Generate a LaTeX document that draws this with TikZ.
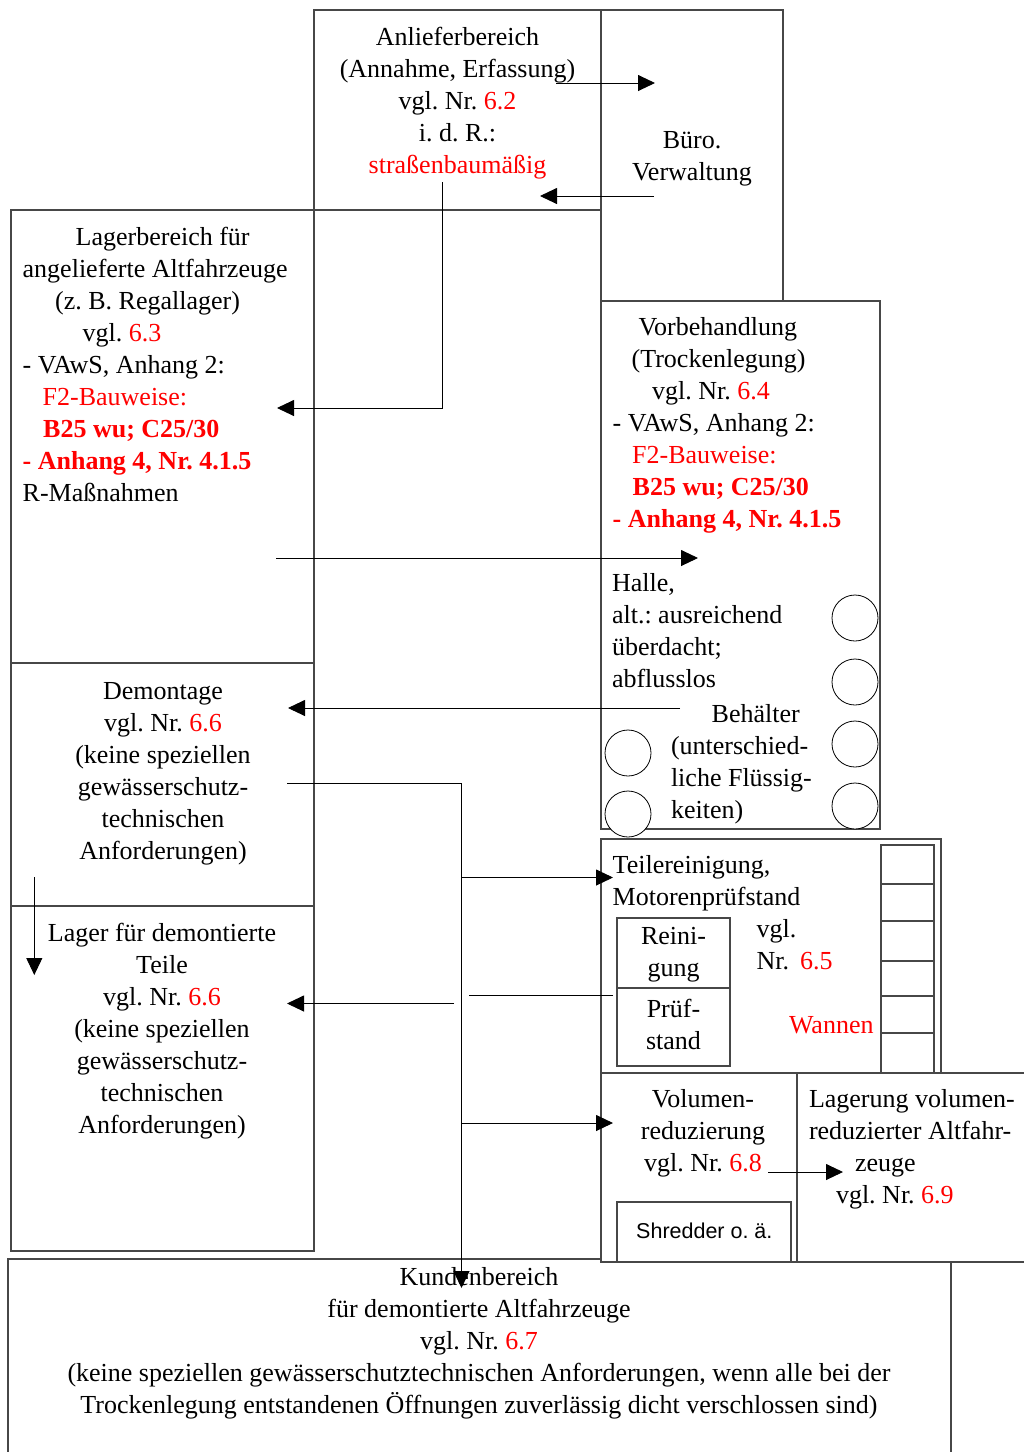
\documentclass[tikz,border=0pt]{standalone}
\usepackage{fontspec}
\setmainfont{Liberation Serif}
\newfontfamily\arialf{Liberation Sans}
\usetikzlibrary{arrows.meta}
\definecolor{rd}{RGB}{255,0,0}
\newcommand\rt[1]{\textcolor{rd}{#1}}
\newcommand\fsz{\fontsize{26}{32}\selectfont\frenchspacing}
\begin{document}
\frenchspacing
\begin{tikzpicture}[x=1pt,y=-1pt,
  box/.style={draw=black!72, line width=1.1pt, fill=white, inner sep=0pt, outer sep=0pt, anchor=north west},
  ring/.style={circle, draw=black, line width=0.8pt, fill=white, inner sep=0pt, minimum size=46pt},
  txt/.style={inner sep=0pt, outer sep=0pt, font=\fsz},
  conn/.style={draw=black, line width=0.9pt},
  arr/.style={conn, -{Triangle[length=17pt,width=16pt]}},
]
\useasboundingbox (0,0) rectangle (1024,1452);
\clip (0,0) rectangle (1024,1452);

% ---------- boxes ----------
\node[box, minimum width=943pt, minimum height=230pt] (kunden) at (8,1259) {};
\node[box, minimum width=287pt, minimum height=200pt] (anl) at (314,10) {};
\node[box, minimum width=182pt, minimum height=291pt] (buero) at (601,10) {};
\node[box, minimum width=303pt, minimum height=453pt] (lagb) at (11,210) {};
\node[box, minimum width=303pt, minimum height=243pt] (demo) at (11,663) {};
\node[box, minimum width=303pt, minimum height=345pt] (lagt) at (11,906) {};
\node[box, minimum width=279pt, minimum height=528pt] (vorb) at (601,301) {};
\node[box, minimum width=340pt, minimum height=234pt] (teil) at (601,839) {};
\node[box, minimum width=113pt, minimum height=70pt] (rein) at (617,918) {};
\node[box, minimum width=113pt, minimum height=78pt] (pruef) at (617,988) {};
\node[box, minimum width=53pt, minimum height=39pt] (w1) at (881,845) {};
\node[box, minimum width=53pt, minimum height=37pt] (w2) at (881,884) {};
\node[box, minimum width=53pt, minimum height=40pt] (w3) at (881,921) {};
\node[box, minimum width=53pt, minimum height=35pt] (w4) at (881,961) {};
\node[box, minimum width=53pt, minimum height=37pt] (w5) at (881,996) {};
\node[box, minimum width=53pt, minimum height=40pt] (w6) at (881,1033) {};
\node[box, minimum width=196pt, minimum height=189pt] (vol) at (601,1073) {};
\node[box, minimum width=174pt, minimum height=60pt] (shr) at (617,1202) {};
\node[box, minimum width=260pt, minimum height=189pt] (lagv) at (797,1073) {};

% ---------- containers ----------
\node[ring] (k1) at (855,618) {};
\node[ring] (k2) at (855,682) {};
\node[ring] (k3) at (855,744) {};
\node[ring] (k4) at (855,806) {};
\node[ring] (k5) at (628,753) {};
\node[ring] (k6) at (628,814) {};

% ---------- texts ----------
\node[txt, align=center, anchor=north] (tanl) at (457.5,22.6)
  {\strut Anlieferbereich\\(Annahme, Erfassung)\\vgl. Nr. \rt{6.2}\\i. d. R.:\\\rt{straßenbaumäßig}};
\node[txt, align=center, anchor=north] (tbuero) at (692,125.6)
  {\strut Büro.\\Verwaltung};
\node[txt, align=left, anchor=north west] (tlagb) at (22.7,222.6)
  {\strut\hspace*{53pt}Lagerbereich für\\
   angelieferte Altfahrzeuge\\
   \hspace*{32.5pt}(z. B. Regallager)\\
   \hspace*{60pt}vgl. \rt{6.3}\\
   - VAwS, Anhang 2:\\
   \hspace*{20pt}\rt{F2-Bauweise:}\\
   \hspace*{20.5pt}\rt{\bfseries B25 wu; C25/30}\\
   \rt{\bfseries - Anhang 4, Nr. 4.1.5}\\
   R-Maßnahmen};
\node[txt, align=center, anchor=north] (tdemo) at (163,676.6)
  {\strut Demontage\\vgl. Nr. \rt{6.6}\\(keine speziellen\\gewässerschutz-\\technischen\\Anforderungen)};
\node[txt, align=center, anchor=north] (tlagt) at (162,918.6)
  {\strut Lager für demontierte\\Teile\\vgl. Nr. \rt{6.6}\\(keine speziellen\\gewässerschutz-\\technischen\\Anforderungen)};
\node[txt, align=left, anchor=north west] (tvorb) at (612.7,312.6)
  {\strut\hspace*{26pt}Vorbehandlung\\
   \hspace*{19pt}(Trockenlegung)\\
   \hspace*{39.5pt}vgl. Nr. \rt{6.4}\\
   - VAwS, Anhang 2:\\
   \hspace*{19.5pt}\rt{F2-Bauweise:}\\
   \hspace*{20pt}\rt{\bfseries B25 wu; C25/30}\\
   \rt{\bfseries - Anhang 4, Nr. 4.1.5}};
\node[txt, align=left, anchor=north west] (thalle) at (612,568.6)
  {\strut Halle,\\alt.: ausreichend\\überdacht;\\abflusslos};
\node[txt, align=left, anchor=north west] (tbeh) at (671,699.6)
  {\strut\hspace*{40.7pt}Behälter\\(unterschied-\\liche Flüssig-\\keiten)};
\node[txt, align=left, anchor=north west] (tteil) at (612.7,850.6)
  {\strut Teilereinigung,\\Motorenprüfstand};
\node[txt, align=left, anchor=north west] (tvgl) at (756.7,914.6)
  {\strut vgl.\\Nr.\hspace{11pt}\rt{6.5}};
\node[txt, anchor=base west] (twann) at (789,1033) {\rt{Wannen}};
\node[txt, align=center, anchor=north] (trein) at (673.5,921.6) {\strut Reini-\\gung};
\node[txt, align=center, anchor=north] (tpruef) at (673.5,994.6) {\strut Prüf-\\stand};
\node[txt, align=center, anchor=north] (tvol) at (703,1084.6)
  {\strut Volumen-\\reduzierung\\vgl. Nr. \rt{6.8}};
\node[inner sep=0pt, anchor=base west, font=\arialf\fontsize{21.5}{26}\selectfont] (tshr) at (636,1238) {Shredder o. ä.};
\node[txt, align=left, anchor=north west] (tlagv) at (809,1084.6)
  {\strut Lagerung volumen-\\reduzierter Altfahr-\\\hspace*{46pt}zeuge\\\hspace*{27pt}vgl. Nr. \rt{6.9}};
\node[txt, align=center, anchor=north] (tkunden) at (479,1262.6)
  {\strut Kundenbereich\\für demontierte Altfahrzeuge\\vgl. Nr. \rt{6.7}\\(keine speziellen gewässerschutztechnischen Anforderungen, wenn alle bei der\\Trockenlegung entstandenen Öffnungen zuverlässig dicht verschlossen sind)};

% ---------- connector ends ----------
\coordinate (p1a) at (556,83);   \coordinate (p1b) at (655,83);
\coordinate (p2a) at (654,196);  \coordinate (p2b) at (540,196);
\coordinate (p3a) at (442.7,182); \coordinate (p3b) at (442.7,408); \coordinate (p3c) at (277,408);
\coordinate (p4a) at (276,558);  \coordinate (p4b) at (698,558);
\coordinate (p5a) at (680,708);  \coordinate (p5b) at (288,708);
\coordinate (p6a) at (287,783);  \coordinate (p6j) at (461.5,783);
\coordinate (p6k) at (461.5,877.5); \coordinate (p6t) at (613,877.5);
\coordinate (p6m) at (461.5,1123);  \coordinate (p6u) at (613,1123);
\coordinate (p6e) at (461.5,1288);
\coordinate (p7a) at (613,995);  \coordinate (p7b) at (469,995);
\coordinate (p8a) at (454,1003.5); \coordinate (p8b) at (287,1003.5);
\coordinate (p9a) at (34.3,877); \coordinate (p9b) at (34.3,975);
\coordinate (p10a) at (768,1172); \coordinate (p10b) at (843,1172);

% ---------- connectors ----------
\draw[arr] (p1a) -- (p1b);
\draw[arr] (p2a) -- (p2b);
\draw[arr] (p3a) -- (p3b) -- (p3c);
\draw[arr] (p4a) -- (p4b);
\draw[arr] (p5a) -- (p5b);
\draw[arr] (p6a) -- (p6j) -- (p6e);
\draw[arr] (p6k) -- (p6t);
\draw[arr] (p6m) -- (p6u);
\draw[conn] (p7a) -- (p7b);
\draw[arr] (p8a) -- (p8b);
\draw[arr] (p9a) -- (p9b);
\draw[arr] (p10a) -- (p10b);
\end{tikzpicture}
\end{document}
